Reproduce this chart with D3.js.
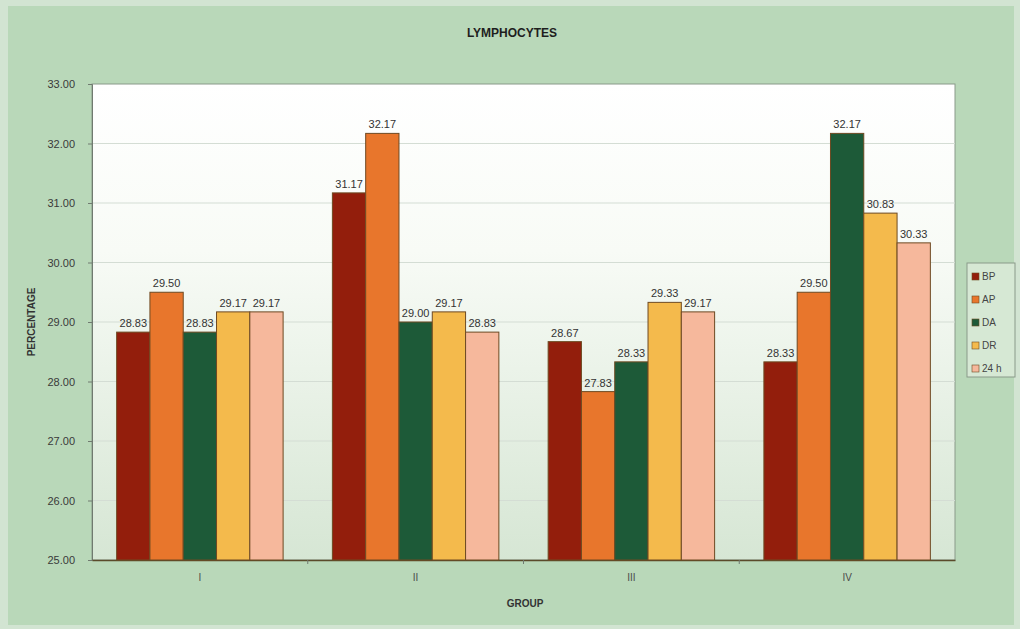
<!DOCTYPE html>
<html>
<head>
<meta charset="utf-8">
<script src="https://cdn.jsdelivr.net/npm/d3@7"></script>
<style>
  html, body { margin: 0; padding: 0; background: #c4dcc4; }
  svg { display: block; font-family: "Liberation Sans", Arial, sans-serif; }
</style>
</head>
<body>
<svg id="chart" width="1020" height="629"></svg>
<script>
// Lymphocyte percentages per group, one array per time point
const groups = ["I", "II", "III", "IV"];
const seriesNames = ["BP", "AP", "DA", "DR", "24 h"];
const valuesBP  = [28.83, 31.17, 28.67, 28.33];
const valuesAP  = [29.50, 32.17, 27.83, 29.50];
const valuesDA  = [28.83, 29.00, 28.33, 32.17];
const valuesDR  = [29.17, 29.17, 29.33, 30.83];
const values24h = [29.17, 28.83, 29.17, 30.33];
const yTicks = [25, 26, 27, 28, 29, 30, 31, 32, 33];
const seriesColors = ["#931e0c", "#e8762c", "#1d5a38", "#f4ba4c", "#f6b89c"];

const seriesValues = [valuesBP, valuesAP, valuesDA, valuesDR, values24h];
const rows = groups.map((g, gi) => ({
  group: g,
  bars: seriesNames.map((s, si) => ({ series: s, value: seriesValues[si][gi], color: seriesColors[si] }))
}));

const svg = d3.select("#chart");
const W = 1020, H = 629;
const plot = { left: 92, right: 955, top: 84, bottom: 560 };

// outer background with a soft lighter frame
svg.append("rect").attr("width", W).attr("height", H).attr("fill", "#d2e4d2");
svg.append("rect").attr("x", 8).attr("y", 6).attr("width", W - 14).attr("height", H - 10)
  .attr("fill", "#b9d8b9");

// plot area gradient
const defs = svg.append("defs");
const grad = defs.append("linearGradient").attr("id", "plotBg")
  .attr("x1", 0).attr("y1", 0).attr("x2", 0).attr("y2", 1);
grad.append("stop").attr("offset", "0%").attr("stop-color", "#ffffff");
grad.append("stop").attr("offset", "35%").attr("stop-color", "#f8fbf6");
grad.append("stop").attr("offset", "100%").attr("stop-color", "#d6e6d4");

svg.append("rect")
  .attr("x", plot.left).attr("y", plot.top)
  .attr("width", plot.right - plot.left).attr("height", plot.bottom - plot.top)
  .attr("fill", "url(#plotBg)")
  .attr("stroke", "#8a9a8a").attr("stroke-width", 1);

const y = d3.scaleLinear().domain([25, 33]).range([plot.bottom, plot.top]);
const x0 = d3.scaleBand().domain(groups).range([plot.left, plot.right]).padding(0);
const x1 = d3.scaleBand().domain(seriesNames).range([0, x0.bandwidth()])
  .paddingInner(0).paddingOuter(0.74);

// gridlines
svg.append("g").selectAll("line").data(yTicks.slice(1, -1)).join("line")
  .attr("x1", plot.left).attr("x2", plot.right)
  .attr("y1", d => y(d)).attr("y2", d => y(d))
  .attr("stroke", "#d4ddd4").attr("stroke-width", 1);

// y axis
const yAxis = svg.append("g").attr("transform", `translate(${plot.left},0)`)
  .call(d3.axisLeft(y).tickValues(yTicks).tickFormat(d3.format(".2f")).tickSize(4).tickPadding(13));
yAxis.select(".domain").attr("stroke", "#707a70");
yAxis.selectAll(".tick line").attr("stroke", "#707a70");
yAxis.selectAll("text").attr("font-size", 11).attr("fill", "#3a3a3a");

// x axis
const xAxis = svg.append("g").attr("transform", `translate(0,${plot.bottom})`)
  .call(d3.axisBottom(x0).tickSize(0).tickPadding(14));
xAxis.select(".domain").attr("stroke", "#5a4a2a").attr("stroke-width", 1.5);
xAxis.selectAll("text").attr("font-size", 10).attr("fill", "#4a4a4a");
// category separators
svg.append("g").selectAll("line").data(groups.slice(1)).join("line")
  .attr("x1", d => x0(d)).attr("x2", d => x0(d))
  .attr("y1", plot.bottom).attr("y2", plot.bottom + 4)
  .attr("stroke", "#707a70");

// bars
const gGroups = svg.append("g").selectAll("g").data(rows).join("g")
  .attr("transform", d => `translate(${x0(d.group)},0)`);

gGroups.selectAll("rect").data(d => d.bars).join("rect")
  .attr("x", d => x1(d.series))
  .attr("y", d => y(d.value))
  .attr("width", x1.bandwidth())
  .attr("height", d => y(25) - y(d.value))
  .attr("fill", d => d.color)
  .attr("stroke", "#6e4a22").attr("stroke-width", 1);

gGroups.selectAll("text").data(d => d.bars).join("text")
  .attr("x", d => x1(d.series) + x1.bandwidth() / 2)
  .attr("y", d => y(d.value) - 5)
  .attr("text-anchor", "middle")
  .attr("font-size", 11)
  .attr("fill", "#333")
  .text(d => d3.format(".2f")(d.value));

// titles
svg.append("text").attr("x", 512).attr("y", 37).attr("text-anchor", "middle")
  .attr("font-size", 12).attr("font-weight", "bold").attr("fill", "#1e1e1e")
  .text("LYMPHOCYTES");
svg.append("text").attr("x", 525).attr("y", 607).attr("text-anchor", "middle")
  .attr("font-size", 10).attr("font-weight", "bold").attr("fill", "#333")
  .text("GROUP");
svg.append("text")
  .attr("transform", `translate(35,${(plot.top + plot.bottom) / 2}) rotate(-90)`)
  .attr("text-anchor", "middle")
  .attr("font-size", 10).attr("font-weight", "bold").attr("fill", "#333")
  .text("PERCENTAGE");

// legend
const legend = svg.append("g").attr("transform", "translate(967,263)");
legend.append("rect").attr("width", 48).attr("height", 114)
  .attr("fill", "#d6e8d4").attr("stroke", "#8a9a8a");
const items = legend.selectAll("g").data(seriesNames).join("g")
  .attr("transform", (d, i) => `translate(5,${10 + i * 23})`);
items.append("rect").attr("width", 7).attr("height", 7)
  .attr("fill", (d, i) => seriesColors[i]).attr("stroke", "#6e4a22").attr("stroke-width", 0.6);
items.append("text").attr("x", 10).attr("y", 7)
  .attr("font-size", 10).attr("fill", "#444").text(d => d);
</script>
</body>
</html>
